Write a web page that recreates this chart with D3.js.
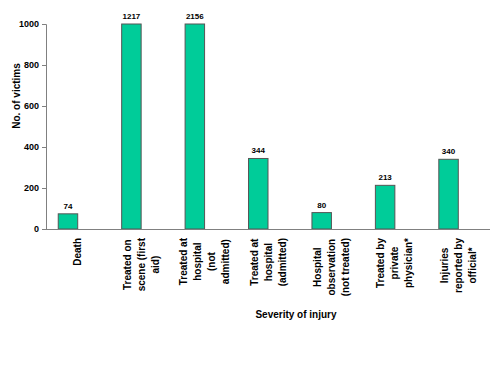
<!DOCTYPE html>
<html>
<head>
<meta charset="utf-8">
<script src="https://cdn.jsdelivr.net/npm/d3@7"></script>
<style>
  body { margin: 0; background: #fff; }
  svg { font-family: "Liberation Sans", Arial, sans-serif; }
</style>
</head>
<body>
<svg id="chart"></svg>
<script>
// Data
const categories = [
  ["Death"],
  ["Treated on", "scene (first", "aid)"],
  ["Treated at", "hospital", "(not", "admitted)"],
  ["Treated at", "hospital", "(admitted)"],
  ["Hospital", "observation", "(not treated)"],
  ["Treated by", "private", "physician*"],
  ["Injuries", "reported by", "official*"]
];
const values = [74, 1217, 2156, 344, 80, 213, 340];
const yTicks = [0, 200, 400, 600, 800, 1000];

const width = 500, height = 375;
const x0 = 46, x1 = 490, yTop = 24, yBottom = 229;

let svg = d3.select("svg#chart")
  .attr("width", width)
  .attr("height", height);

let xScale = d3.scaleBand()
  .domain(d3.range(values.length))
  .range([x0, x1])
  .padding(0);
let yScale = d3.scaleLinear().domain([0, 1000]).range([yBottom, yTop]);

const barW = xScale.bandwidth() * 0.307;

// Bars (clipped at the axis maximum), sit left of the band centre
svg.append("g").selectAll("rect")
  .data(values)
  .join("rect")
  .attr("x", (d, i) => xScale(i) + xScale.bandwidth() / 2 - barW)
  .attr("y", d => yScale(Math.min(d, 1000)))
  .attr("width", barW)
  .attr("height", d => yBottom - yScale(Math.min(d, 1000)))
  .attr("fill", "#00cc99")
  .attr("stroke", "#555")
  .attr("stroke-width", 1);

// Value labels
svg.append("g").selectAll("text")
  .data(values)
  .join("text")
  .attr("x", (d, i) => xScale(i) + xScale.bandwidth() / 2 - barW / 2)
  .attr("y", d => yScale(Math.min(d, 1000)) - 5)
  .attr("text-anchor", "middle")
  .attr("font-size", 8)
  .attr("font-weight", "bold")
  .attr("fill", "#000")
  .text(d => d);

// Y axis
let yAxisG = svg.append("g")
  .attr("transform", `translate(${x0},0)`)
  .call(d3.axisLeft(yScale).tickValues(yTicks).tickFormat(d3.format("d")).tickSize(4).tickPadding(3));
yAxisG.select(".domain").attr("stroke", "#808080");
yAxisG.selectAll(".tick line").attr("stroke", "#808080");
yAxisG.selectAll(".tick text")
  .attr("font-size", 9)
  .attr("font-weight", "bold")
  .attr("font-family", "Liberation Sans, Arial, sans-serif")
  .attr("fill", "#000");

// X axis line
svg.append("line")
  .attr("x1", x0).attr("x2", x1)
  .attr("y1", yBottom + 0.5).attr("y2", yBottom + 0.5)
  .attr("stroke", "#808080");

// Category labels: rotated, lines centred, block top-aligned under the axis
const labelTop = 238, lineGap = 14;
categories.forEach((lines, i) => {
  const cx = xScale(i) + xScale.bandwidth() / 2;
  let g = svg.append("g");
  let texts = g.selectAll("text")
    .data(lines)
    .join("text")
    .attr("font-size", 10)
    .attr("font-weight", "bold")
    .attr("fill", "#000")
    .attr("text-anchor", "middle")
    .text(d => d);
  let maxLen = d3.max(texts.nodes(), n => n.getComputedTextLength());
  const cy = labelTop + maxLen / 2;
  texts.attr("transform", (d, j) => {
    const lx = cx + (j - (lines.length - 1) / 2) * lineGap;
    return `translate(${lx},${cy}) rotate(-90)`;
  }).attr("dy", "0.35em");
});

// Axis titles
svg.append("text")
  .attr("transform", "translate(16,96) rotate(-90)")
  .attr("text-anchor", "middle")
  .attr("dy", "0.35em")
  .attr("font-size", 10)
  .attr("font-weight", "bold")
  .text("No. of victims");

svg.append("text")
  .attr("x", 296)
  .attr("y", 318)
  .attr("text-anchor", "middle")
  .attr("font-size", 10)
  .attr("font-weight", "bold")
  .text("Severity of injury");
</script>
</body>
</html>
